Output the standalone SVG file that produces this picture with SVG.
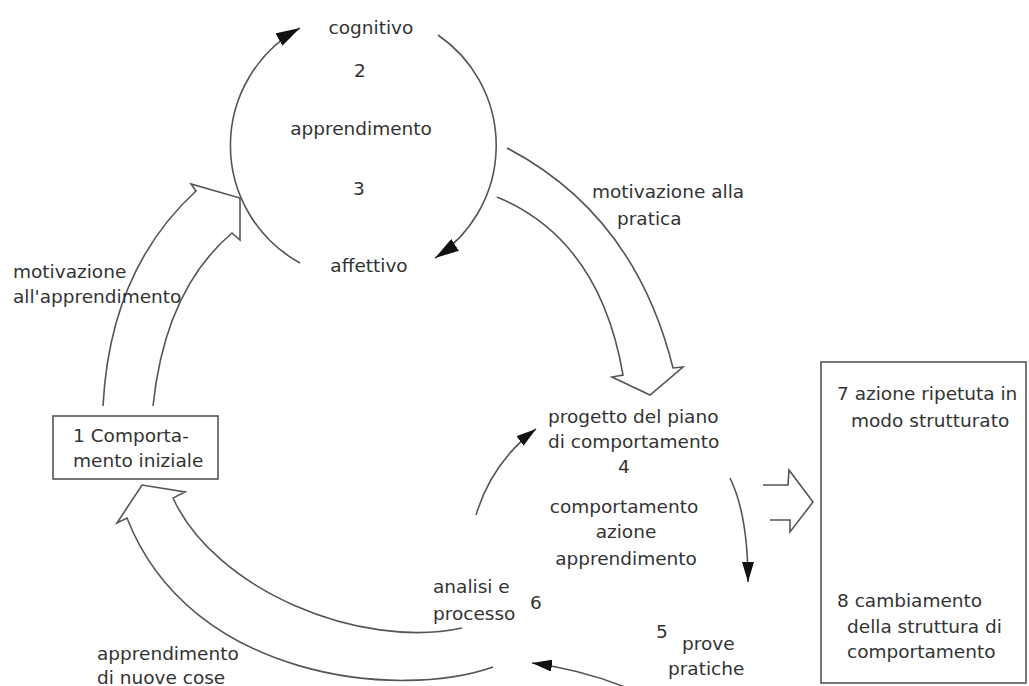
<svg xmlns="http://www.w3.org/2000/svg" width="1029" height="686" viewBox="0 0 1029 686">
<style>
  text { font-family: "DejaVu Sans", "Liberation Sans", sans-serif; font-size: 18.5px; fill: #333; }
  .mid { text-anchor: middle; }
  .ln { fill: none; stroke: #555; stroke-width: 1.6; stroke-linejoin: miter; }
  .box { fill: #fff; stroke: #555; stroke-width: 1.6; }
</style>
<defs>
  <marker id="bigHead" markerUnits="userSpaceOnUse" markerWidth="26" markerHeight="14" refX="24" refY="7" orient="auto">
    <path d="M0,0 L24,7 L0,14 z" fill="#111"/>
  </marker>
  <marker id="smallHead" markerUnits="userSpaceOnUse" markerWidth="22" markerHeight="12" refX="20" refY="6" orient="auto">
    <path d="M0,0 L20,6 L0,12 z" fill="#111"/>
  </marker>
</defs>
<rect width="1029" height="686" fill="#fff"/>

<g id="connectors">
  <path id="arc-left" class="ln" d="M300,263 A134,134 0 0 1 300,28" marker-end="url(#bigHead)"/>
  <path id="arc-right" class="ln" d="M438,35 A134,134 0 0 1 435,258" marker-end="url(#bigHead)"/>
  <path id="hollow-left" class="ln" d="M103,406 Q110,270 196,191 L191,184 L240,198 L240,240 L232,233 Q165,290 153,406"/>
  <path id="hollow-right" class="ln" d="M507,148 Q635,215 673,368 L683,367 L650,395 L612,377 L623,375 Q600,240 497,197"/>
  <path id="hollow-bottom" class="ln" d="M493,667 C400,700 190,680 127,518 L117,523 L142,485 L185,492 L173,498 C215,590 360,650 462,628"/>
  <path id="hollow-box" class="ln" d="M763,485 L788,485 L789,470 L813,502 L790,532 L790,520 L770,520"/>
  <path id="arc-6-4" class="ln" d="M476,515 Q492,462 536,429" marker-end="url(#smallHead)"/>
  <path id="arc-4-5" class="ln" d="M730,478 Q748,515 748,582" marker-end="url(#smallHead)"/>
  <path id="arc-5-6" class="ln" d="M632,690 Q585,670 532,663" marker-end="url(#smallHead)"/>
</g>

<g id="node-cycle">
  <text class="mid" x="371" y="34">cognitivo</text>
  <text class="mid" x="360" y="77">2</text>
  <text class="mid" x="361" y="135">apprendimento</text>
  <text class="mid" x="359" y="195">3</text>
  <text class="mid" x="369" y="272">affettivo</text>
</g>

<g id="label-motivazione-pratica">
  <text x="592" y="198">motivazione alla</text>
  <text x="617" y="225">pratica</text>
</g>

<g id="label-motivazione-apprendimento">
  <text x="13" y="278">motivazione</text>
  <text x="13" y="303">all'apprendimento</text>
</g>

<g id="node-1">
  <rect class="box" x="53" y="416" width="165" height="63"/>
  <text x="73" y="442">1 Comporta-</text>
  <text x="73" y="467">mento iniziale</text>
</g>

<g id="node-4">
  <text x="548" y="423">progetto del piano</text>
  <text x="548" y="448">di comportamento</text>
  <text class="mid" x="624" y="473">4</text>
  <text class="mid" x="624" y="513">comportamento</text>
  <text class="mid" x="626" y="538">azione</text>
  <text class="mid" x="626" y="565">apprendimento</text>
</g>

<g id="node-6">
  <text x="433" y="593">analisi e</text>
  <text x="433" y="620">processo</text>
  <text x="530" y="609">6</text>
</g>

<g id="node-5">
  <text class="mid" x="662" y="638">5</text>
  <text x="682" y="650">prove</text>
  <text x="668" y="675">pratiche</text>
</g>

<g id="label-nuove-cose">
  <text x="97" y="660">apprendimento</text>
  <text x="97" y="684">di nuove cose</text>
</g>

<g id="node-7-8">
  <rect class="box" x="821" y="362" width="205" height="321"/>
  <text x="837" y="400">7 azione ripetuta in</text>
  <text x="851" y="427">modo strutturato</text>
  <text x="837" y="607">8 cambiamento</text>
  <text x="847" y="633">della struttura di</text>
  <text x="847" y="658">comportamento</text>
</g>
</svg>
